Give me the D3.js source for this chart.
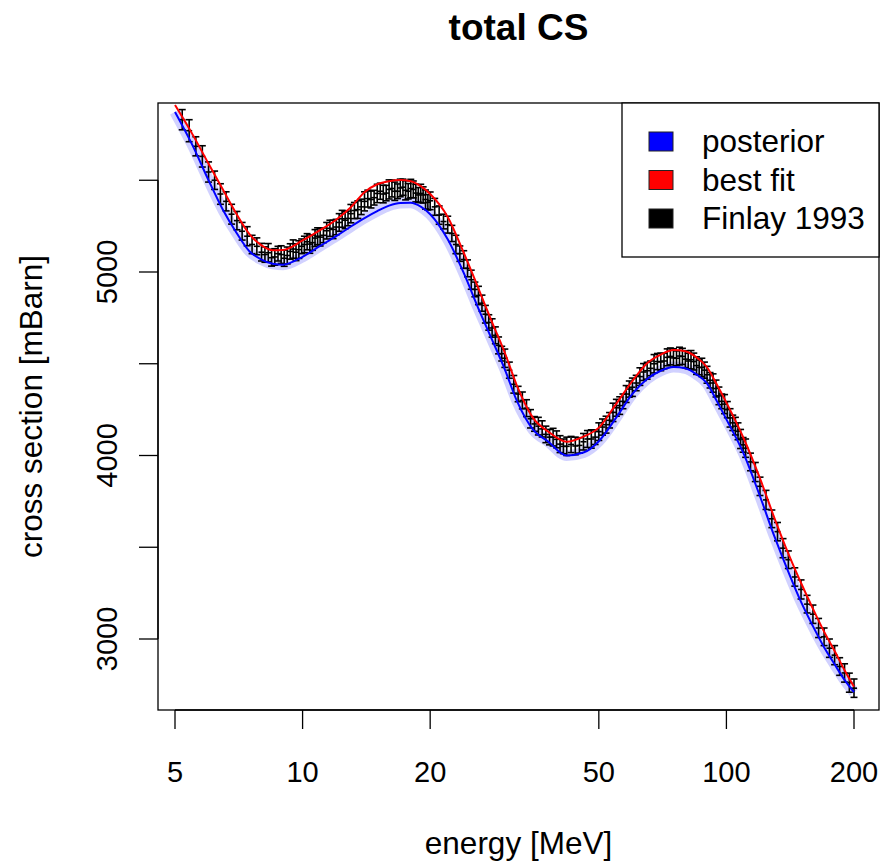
<!DOCTYPE html>
<html>
<head>
<meta charset="utf-8">
<style>
	body { margin: 0; background: #fff; }
	svg text { font-family: "Liberation Sans", Arial, sans-serif; fill: #000; }
</style>
</head>
<body>
<svg width="880" height="864"></svg>
<script src="https://d3js.org/d3.v7.min.js"></script>
<script>
	// curve energies [MeV]
	const energies = [5, 5.5, 6, 6.5, 7, 7.5, 8, 8.5, 9, 10, 11, 12, 13, 14, 15, 16, 17, 18, 19, 20,
		22, 24, 26, 28, 30, 32, 35, 38, 42, 46, 50, 55, 60, 65, 70, 75, 80, 85, 90, 95,
		100, 110, 120, 130, 140, 150, 160, 170, 180, 190, 200];
	// best fit [mBarn]
	const bestFit = [5910, 5750, 5590, 5445, 5312, 5205, 5145, 5118, 5120, 5172, 5228, 5285, 5353, 5435, 5478, 5495, 5501, 5495, 5468, 5425,
		5300, 5105, 4910, 4725, 4560, 4384, 4204, 4130, 4075, 4103, 4152, 4283, 4406, 4503, 4550, 4575, 4568, 4535, 4481, 4385,
		4288, 4090, 3875, 3655, 3465, 3305, 3165, 3040, 2935, 2830, 2740];
	// posterior mean [mBarn]
	const posterior = [5872, 5690, 5500, 5335, 5210, 5112, 5068, 5045, 5040, 5083, 5142, 5195, 5248, 5294, 5332, 5362, 5376, 5377, 5356, 5315,
		5178, 4995, 4800, 4630, 4470, 4300, 4140, 4075, 4000, 4016, 4078, 4208, 4336, 4417, 4462, 4482, 4475, 4442, 4393, 4295,
		4197, 4006, 3778, 3555, 3366, 3202, 3070, 2955, 2862, 2777, 2710];

	// Finlay 1993 measurements: energy [MeV], cross section and error [mBarn]
	const expE = [5.2, 5.4, 5.6, 5.8, 6.0, 6.2, 6.4, 6.6, 6.8, 7.0, 7.2, 7.4, 7.6, 7.8, 8.0, 8.3, 8.6, 8.9, 9.2, 9.5,
		9.8, 10.1, 10.4, 10.7, 11.0, 11.4, 11.8, 12.2, 12.6, 13.0, 13.5, 14.0, 14.5, 15.0, 15.5, 16.0, 16.5, 17.0, 17.5, 18.0,
		18.5, 19.0, 19.5, 20, 21, 22, 23, 24, 25, 26, 27, 28, 29, 30, 31.5, 33, 34.5, 36, 37.5, 39,
		40.5, 42, 44, 46, 48, 50, 52, 54, 56, 58, 60, 62.5, 65, 67.5, 70, 72.5, 75, 77.5, 80, 82.5,
		85, 87.5, 90, 93, 96, 99, 102, 105, 108, 111, 114, 117, 120, 124, 128, 132, 136, 140, 145, 150,
		155, 160, 165, 170, 175, 180, 185, 190, 195, 200,
		8.15, 8.45, 8.75, 9.05, 9.35, 9.65, 9.95, 10.25, 10.55, 10.85, 11.2, 11.6, 12.0, 12.4, 12.8, 13.25, 13.75, 14.25, 14.75, 15.25,
		15.75, 16.25, 16.75, 17.25, 17.75, 18.25, 18.75, 19.25, 19.75, 20.5, 21.5, 22.5, 23.5, 24.5, 25.5, 26.5, 27.5, 28.5, 29.5, 30.75,
		32.25, 33.75, 35.25, 36.75, 38.25, 39.75, 41.25, 43, 45, 47, 49, 51, 53, 55, 57, 59, 61.25, 63.75, 66.25, 68.75,
		71.25, 73.75, 76.25, 78.75, 81.25, 83.75, 86.25, 88.75, 91.5, 94.5, 97.5, 100.5, 103.5, 106.5, 109.5];
	const expCS = [5830, 5770, 5685, 5630, 5545, 5500, 5425, 5385, 5315, 5280, 5222, 5195, 5150, 5140, 5108, 5105, 5082, 5095, 5090, 5125,
		5122, 5150, 5152, 5185, 5190, 5225, 5232, 5270, 5282, 5318, 5340, 5385, 5395, 5428, 5425, 5450, 5440, 5458, 5445, 5455,
		5430, 5428, 5395, 5388, 5310, 5258, 5150, 5068, 4958, 4872, 4770, 4695, 4600, 4530, 4388, 4300, 4200, 4160, 4115, 4100,
		4062, 4050, 4052, 4075, 4090, 4130, 4168, 4235, 4272, 4335, 4372, 4430, 4462, 4500, 4510, 4535, 4532, 4542, 4525, 4522,
		4490, 4480, 4440, 4395, 4325, 4280, 4205, 4160, 4090, 4040, 3965, 3910, 3832, 3758, 3655, 3585, 3495, 3432, 3338, 3270,
		3190, 3135, 3060, 3012, 2950, 2912, 2850, 2815, 2762, 2732,
		5095, 5078, 5100, 5075, 5112, 5108, 5140, 5165, 5160, 5195, 5200, 5238, 5245, 5290, 5292, 5335, 5355, 5400, 5405, 5440,
		5430, 5455, 5440, 5462, 5440, 5450, 5420, 5420, 5380, 5355, 5275, 5210, 5100, 5020, 4905, 4830, 4725, 4655, 4555, 4465,
		4335, 4258, 4172, 4145, 4100, 4088, 4050, 4060, 4055, 4090, 4100, 4155, 4192, 4260, 4295, 4362, 4395, 4455, 4475, 4512,
		4515, 4540, 4530, 4540, 4515, 4512, 4480, 4465, 4410, 4365, 4295, 4250, 4178, 4132, 4058];
	const expErr = [55, 60, 52, 58, 55, 50, 56, 52, 54, 50, 48, 52, 50, 46, 48, 50, 45, 48, 46, 50,
		48, 45, 50, 46, 48, 45, 50, 48, 46, 50, 48, 52, 46, 50, 48, 52, 50, 48, 52, 50,
		48, 50, 52, 48, 50, 46, 50, 48, 52, 50, 48, 50, 46, 50, 48, 46, 50, 48, 45, 48,
		46, 50, 48, 45, 50, 48, 46, 50, 48, 46, 50, 48, 46, 50, 48, 46, 50, 48, 46, 50,
		48, 50, 46, 50, 48, 52, 50, 48, 52, 50, 48, 52, 50, 52, 48, 50, 52, 48, 50, 52,
		48, 50, 52, 48, 50, 52, 48, 50, 52, 50,
		42, 46, 40, 44, 42, 46, 40, 44, 42, 46, 40, 44, 42, 46, 40, 44, 42, 46, 40, 44,
		42, 46, 40, 44, 42, 46, 40, 44, 42, 46, 40, 44, 42, 46, 40, 44, 42, 46, 40, 44,
		42, 46, 40, 44, 42, 46, 40, 44, 42, 46, 40, 44, 42, 46, 40, 44, 42, 46, 40, 44,
		42, 46, 40, 44, 42, 46, 40, 44, 42, 46, 40, 44, 42, 46, 40];

	const xTicks = [5, 10, 20, 50, 100, 200];
	const yTicks = [3000, 3500, 4000, 4500, 5000, 5500];
	const yLabels = [3000, 4000, 5000];

	const legendNames = ["posterior", "best fit", "Finlay 1993"];
	const legendColors = ["#0000ff", "#ff0000", "#000000"];

	const svg = d3.select("svg");
	const box = { left: 158, right: 879, top: 103, bottom: 710 };

	const x = d3.scaleLog().domain([5, 200]).range([175, 854]);
	const y = d3.scaleLinear().domain([3000, 5000]).range([639, 272]);

	svg.append("clipPath").attr("id", "plotclip")
		.append("rect")
		.attr("x", box.left).attr("y", box.top)
		.attr("width", box.right - box.left).attr("height", box.bottom - box.top);

	const plot = svg.append("g").attr("clip-path", "url(#plotclip)");

	const line = d3.line()
		.x((d) => x(d[0]))
		.y((d) => y(d[1]))
		.curve(d3.curveMonotoneX);

	const postPts = energies.map((e, i) => [e, posterior[i]]);
	const fitPts = energies.map((e, i) => [e, bestFit[i]]);

	// posterior spread
	plot.append("path")
		.attr("d", line(postPts))
		.attr("fill", "none")
		.attr("stroke", "#8c8cff")
		.attr("stroke-opacity", 0.4)
		.attr("stroke-width", 11);

	// experimental error bars
	const exp = expE.map((e, i) => ({ e: e, v: expCS[i], err: expErr[i] }));
	const eg = plot.append("g").attr("stroke", "#000").attr("stroke-width", 1.6);
	eg.selectAll("line.bar")
		.data(exp)
		.join("line")
		.attr("class", "bar")
		.attr("x1", (d) => x(d.e)).attr("x2", (d) => x(d.e))
		.attr("y1", (d) => y(d.v - d.err)).attr("y2", (d) => y(d.v + d.err));
	eg.selectAll("line.capHi")
		.data(exp)
		.join("line")
		.attr("class", "capHi")
		.attr("x1", (d) => x(d.e) - 3.5).attr("x2", (d) => x(d.e) + 3.5)
		.attr("y1", (d) => y(d.v + d.err)).attr("y2", (d) => y(d.v + d.err));
	eg.selectAll("line.capLo")
		.data(exp)
		.join("line")
		.attr("class", "capLo")
		.attr("x1", (d) => x(d.e) - 3.5).attr("x2", (d) => x(d.e) + 3.5)
		.attr("y1", (d) => y(d.v - d.err)).attr("y2", (d) => y(d.v - d.err));
	eg.selectAll("line.mid")
		.data(exp)
		.join("line")
		.attr("class", "mid")
		.attr("x1", (d) => x(d.e) - 3).attr("x2", (d) => x(d.e) + 3)
		.attr("y1", (d) => y(d.v)).attr("y2", (d) => y(d.v));

	plot.append("path")
		.attr("d", line(postPts))
		.attr("fill", "none")
		.attr("stroke", "#0000ff")
		.attr("stroke-width", 2);
	plot.append("path")
		.attr("d", line(fitPts))
		.attr("fill", "none")
		.attr("stroke", "#ff0000")
		.attr("stroke-width", 2);

	// frame
	svg.append("rect")
		.attr("x", box.left).attr("y", box.top)
		.attr("width", box.right - box.left).attr("height", box.bottom - box.top)
		.attr("fill", "none").attr("stroke", "#000").attr("stroke-width", 1.3);

	// x axis
	const xg = svg.append("g").attr("transform", "translate(0," + box.bottom + ")");
	xg.append("line")
		.attr("x1", x(xTicks[0])).attr("x2", x(xTicks[xTicks.length - 1]))
		.attr("stroke", "#000").attr("stroke-width", 1.3);
	xg.selectAll("line.tick")
		.data(xTicks)
		.join("line")
		.attr("class", "tick")
		.attr("x1", (d) => x(d)).attr("x2", (d) => x(d))
		.attr("y1", 0).attr("y2", 19)
		.attr("stroke", "#000").attr("stroke-width", 1.3);
	xg.selectAll("text")
		.data(xTicks)
		.join("text")
		.attr("x", (d) => x(d))
		.attr("y", 72)
		.attr("text-anchor", "middle")
		.style("font-size", "29px")
		.text((d) => d);

	// y axis
	const yg = svg.append("g").attr("transform", "translate(" + box.left + ",0)");
	yg.append("line")
		.attr("y1", y(yTicks[0])).attr("y2", y(yTicks[yTicks.length - 1]))
		.attr("stroke", "#000").attr("stroke-width", 1.3);
	yg.selectAll("line.tick")
		.data(yTicks)
		.join("line")
		.attr("class", "tick")
		.attr("y1", (d) => y(d)).attr("y2", (d) => y(d))
		.attr("x1", 0).attr("x2", -19)
		.attr("stroke", "#000").attr("stroke-width", 1.3);
	yg.selectAll("text")
		.data(yLabels)
		.join("text")
		.attr("transform", (d) => "translate(-41," + y(d) + ") rotate(-90)")
		.attr("text-anchor", "middle")
		.style("font-size", "29px")
		.text((d) => d);

	// titles
	svg.append("text")
		.attr("x", (box.left + box.right) / 2)
		.attr("y", 40)
		.attr("text-anchor", "middle")
		.style("font-size", "37px")
		.style("font-weight", "bold")
		.text("total CS");
	svg.append("text")
		.attr("x", (box.left + box.right) / 2)
		.attr("y", 854)
		.attr("text-anchor", "middle")
		.style("font-size", "31.5px")
		.text("energy [MeV]");
	svg.append("text")
		.attr("transform", "translate(42," + (box.top + box.bottom) / 2 + ") rotate(-90)")
		.attr("text-anchor", "middle")
		.style("font-size", "31.5px")
		.text("cross section [mBarn]");

	// legend
	const lg = svg.append("g");
	lg.append("rect")
		.attr("x", 622).attr("y", box.top)
		.attr("width", box.right - 622).attr("height", 154)
		.attr("fill", "#fff").attr("stroke", "#000").attr("stroke-width", 1.3);
	const rows = lg.selectAll("g.row")
		.data(legendNames)
		.join("g")
		.attr("class", "row")
		.attr("transform", (d, i) => "translate(0," + (141 + i * 38.5) + ")");
	rows.append("rect")
		.attr("x", 649).attr("y", -9)
		.attr("width", 24).attr("height", 19)
		.attr("fill", (d, i) => legendColors[i])
		.attr("stroke", "#222").attr("stroke-width", 1);
	rows.append("text")
		.attr("x", 702)
		.attr("y", 11)
		.style("font-size", "31.5px")
		.text((d) => d);
</script>
</body>
</html>
